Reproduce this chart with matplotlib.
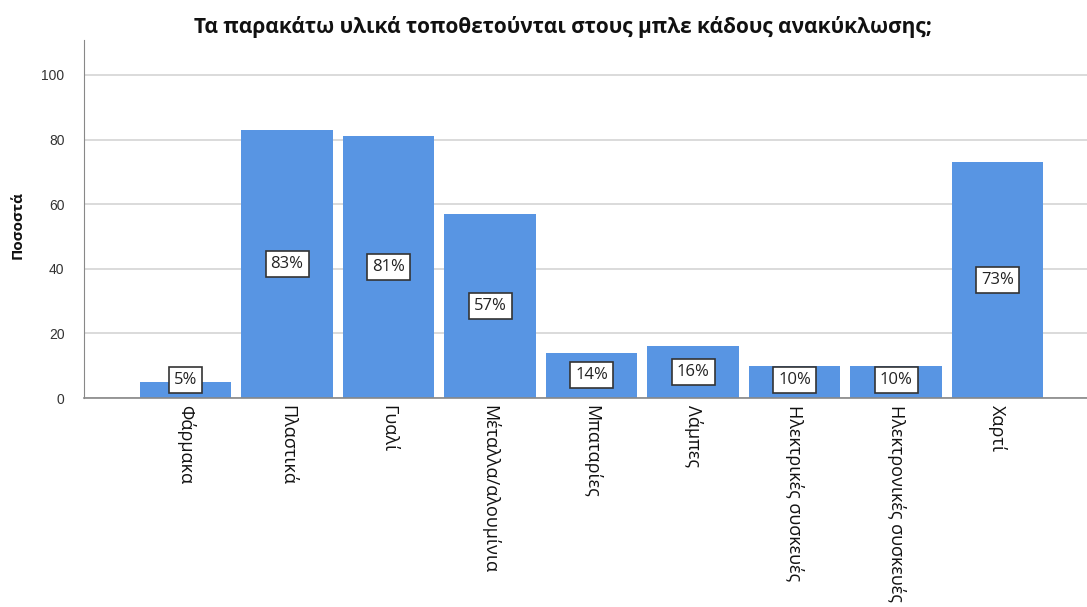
import matplotlib.pyplot as plt
import numpy as np

# share of answers per material
categories = ['Φάρμακα', 'Πλαστικά', 'Γυαλί', 'Μέταλλα/αλουμίνια', 'Μπαταρίες',
              'Λάμπες', 'Ηλεκτρικές συσκευές', 'Ηλεκτρονικές συσκευές', 'Χαρτί']
values = [5, 83, 81, 57, 14, 16, 10, 10, 73]
yticks = [0, 20, 40, 60, 80, 100]

plt.rcParams['font.family'] = ['Open Sans', 'DejaVu Sans']

fig = plt.figure(figsize=(10.87, 6.07), dpi=100)
ax = fig.add_axes([84 / 1087, 1 - 398 / 607, 1 - 84 / 1087, (398 - 40) / 607])

x = np.arange(len(categories))
ax.bar(x, values, width=0.9, color='#5895e3', zorder=2)

for xi, v in zip(x, values):
    ax.text(xi, max(v / 2, 5.7), f'{v}%', ha='center', va='center', fontsize=12,
            color='#222222', zorder=3,
            bbox=dict(boxstyle='square,pad=0.3', facecolor='white', edgecolor='#333333', linewidth=1.2))

ax.set_xlim(-1, 8.88)
ax.set_ylim(0, 110.8)
ax.set_yticks(yticks)
ax.set_yticklabels([str(t) for t in yticks], fontsize=10, color='#333333', family='Liberation Sans')
ax.set_xticks(x)
ax.set_xticklabels(categories, rotation=270, ha='center', va='top', fontsize=13, color='#111111')
ax.tick_params(axis='x', length=0, pad=5)
ax.tick_params(axis='y', length=0, pad=14)

ax.grid(axis='y', color='#d4d4d4', linewidth=1.2, zorder=0)
for side in ['top', 'right']:
    ax.spines[side].set_visible(False)
ax.spines['left'].set_color('#888888')
ax.spines['bottom'].set_color('#888888')
ax.spines['bottom'].set_linewidth(1.2)

fig.text(563 / 1087, 1 - 27 / 607, 'Τα παρακάτω υλικά τοποθετούνται στους μπλε κάδους ανακύκλωσης;',
         ha='center', va='center', fontsize=15, fontweight='bold', color='#111111')
fig.text(18 / 1087, 1 - 225 / 607, 'Ποσοστά', rotation=90, ha='center', va='center',
         fontsize=11, fontweight='bold', color='#111111')

fig.savefig('out.png', dpi=100)
